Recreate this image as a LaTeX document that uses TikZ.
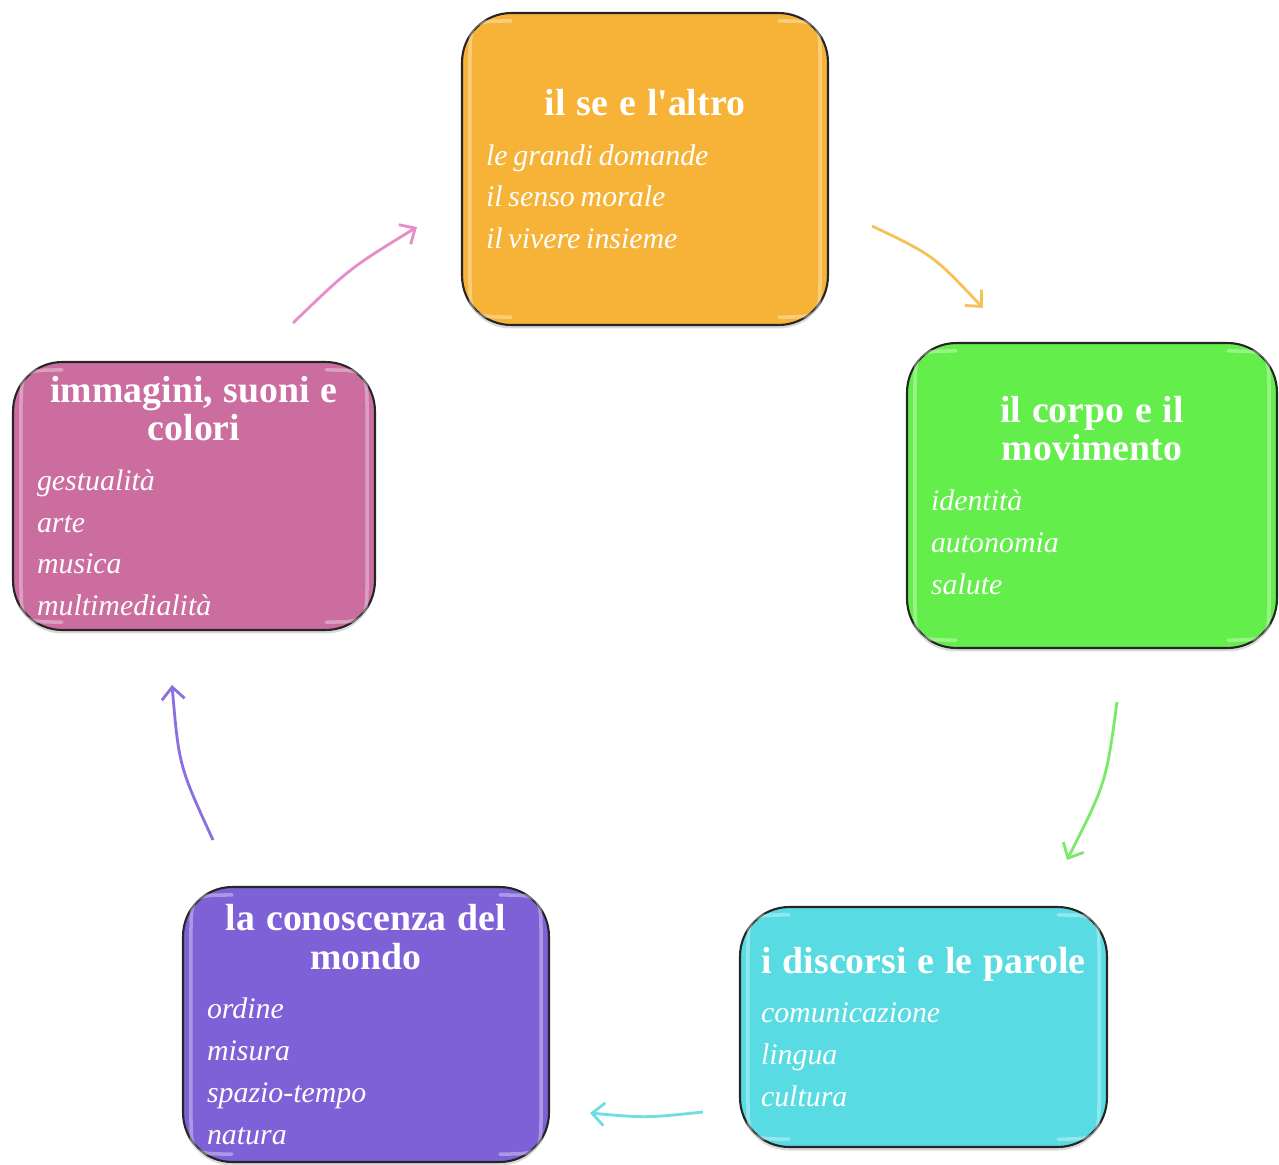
\documentclass[tikz,border=0pt]{standalone}
\usepackage{fontspec}
\setmainfont[Ligatures=TeXOff]{Liberation Serif}
\usetikzlibrary{arrows.meta,shadows}

\definecolor{selfcol}{RGB}{247,179,55}
\definecolor{bodycol}{RGB}{99,238,75}
\definecolor{wordscol}{RGB}{88,219,226}
\definecolor{worldcol}{RGB}{126,97,215}
\definecolor{artcol}{RGB}{204,109,160}
\definecolor{selfarrow}{RGB}{247,193,90}
\definecolor{bodyarrow}{RGB}{123,233,106}
\definecolor{wordsarrow}{RGB}{110,221,230}
\definecolor{worldarrow}{RGB}{138,110,226}
\definecolor{artarrow}{RGB}{231,140,200}

\tikzset{
  topic/.style={draw=black!85, line width=1.2pt, rounded corners=28pt,
    text=white, inner sep=0pt, align=left,
    drop shadow={shadow xshift=0pt, shadow yshift=-2pt, opacity=0.3}},
  gloss/.style={white, opacity=0.35, line width=2pt, line cap=round},
  flow/.style={line width=1.6pt, -{Straight Barb[length=7pt,width=13pt]}}
}
\newcommand{\topichead}[1]{{\centering\fontsize{21.5}{21.8}\selectfont\bfseries\spaceskip=0.29em\relax #1\par}\vspace{4.5pt}}
\newcommand{\topiclist}[1]{{\fontsize{17}{23.8}\selectfont\itshape #1\par}}

\begin{document}
\begin{tikzpicture}[x=0.02cm, y=-0.02cm]
\useasboundingbox (0,0) rectangle (1279,1164);

\node[topic, fill=selfcol, minimum width=7.32cm, minimum height=6.24cm, text width=6.36cm] (self) at (645,169)
  {\topichead{il se e l'altro}\topiclist{le grandi domande\\ il senso morale\\ il vivere insieme}};

\node[topic, fill=bodycol, minimum width=7.4cm, minimum height=6.1cm, text width=6.44cm] (body) at (1092,495.5)
  {\topichead{il corpo e il\\ movimento}\topiclist{identità\\ autonomia\\ salute}};

\node[topic, fill=wordscol, minimum width=7.34cm, minimum height=4.8cm, text width=6.5cm] (words) at (923.5,1027)
  {\topichead{i discorsi e le parole}\topiclist{comunicazione\\ lingua\\ cultura}};

\node[topic, fill=worldcol, minimum width=7.32cm, minimum height=5.5cm, text width=6.36cm] (world) at (366,1024.5)
  {\topichead{la conoscenza del\\ mondo}\topiclist{ordine\\ misura\\ spazio-tempo\\ natura}};

\node[topic, fill=artcol, minimum width=7.24cm, minimum height=5.36cm, text width=6.28cm] (art) at (194,496)
  {\topichead{immagini, suoni e\\ colori}\topiclist{gestualità\\ arte\\ musica\\ multimedialità}};

\foreach \n in {self,body,words,world,art} {
  \draw[gloss] ([shift={(50,9)}]\n.north west) .. controls ([shift={(9,9)}]\n.north west) .. ([shift={(9,50)}]\n.north west)
    -- ([shift={(9,-50)}]\n.south west) .. controls ([shift={(9,-9)}]\n.south west) .. ([shift={(50,-9)}]\n.south west);
  \draw[gloss] ([shift={(-50,9)}]\n.north east) .. controls ([shift={(-9,9)}]\n.north east) .. ([shift={(-9,50)}]\n.north east)
    -- ([shift={(-9,-50)}]\n.south east) .. controls ([shift={(-9,-9)}]\n.south east) .. ([shift={(-50,-9)}]\n.south east);
}

\coordinate (selfout) at (872,226);
\coordinate (bodyin) at (983,308);
\coordinate (bodyout) at (1117,702);
\coordinate (wordsin) at (1067,860);
\coordinate (wordsout) at (703,1112);
\coordinate (worldin) at (590,1113);
\coordinate (worldout) at (213,840);
\coordinate (artin) at (172,685);
\coordinate (artout) at (293,323);
\coordinate (selfin) at (417,227);

\draw[flow, selfarrow] (selfout) .. controls (933,255) .. (bodyin);
\draw[flow, bodyarrow] (bodyout) .. controls (1106,783) .. (wordsin);
\draw[flow, wordsarrow] (wordsout) .. controls (646,1118) .. (worldin);
\draw[flow, worldarrow] (worldout) .. controls (179,766) .. (artin);
\draw[flow, artarrow] (artout) .. controls (350,268) .. (selfin);
\end{tikzpicture}
\end{document}
